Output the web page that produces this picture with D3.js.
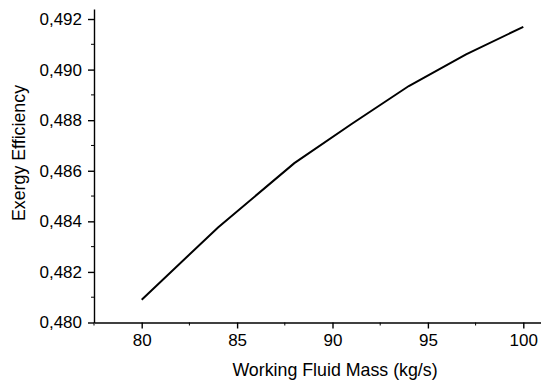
<!DOCTYPE html>
<html>
<head>
<meta charset="utf-8">
<script src="https://cdn.jsdelivr.net/npm/d3@7"></script>
<style>
  body { margin: 0; background: #fff; }
  text { font-family: "Liberation Sans", Arial, sans-serif; fill: #000; }
</style>
</head>
<body>
<script>
// data
var mass = [80, 84, 88, 91, 94, 97, 100];
var efficiency = [0.48090, 0.48376, 0.48630, 0.48785, 0.48935, 0.49060, 0.49169];
var xTicks = [80, 85, 90, 95, 100];
var yTicks = [0.480, 0.482, 0.484, 0.486, 0.488, 0.490, 0.492];

var width = 541;
var height = 383;

var svg = d3.select("body")
    .append("svg")
    .attr("width", width)
    .attr("height", height);

// scales (x axis runs past the right edge, like the original)
var x = d3.scaleLinear()
    .domain([77.5, 102.5])
    .range([94, 571]);
var y = d3.scaleLinear()
    .domain([0.480, 0.4924])
    .range([322.5, 8.9]);

var comma = d3.formatLocale({ decimal: ",", thousands: ".", grouping: [3], currency: ["", ""] });

// minor ticks
var xMinor = d3.range(77.5, 102.6, 2.5).filter(function(d) { return xTicks.indexOf(d) < 0; });
var yMinor = d3.range(0.481, 0.4921, 0.002);

var xAxis = svg.append("g")
    .attr("transform", "translate(0," + y(0.480) + ")")
    .call(d3.axisBottom(x).tickValues(xTicks).tickSize(6).tickPadding(5).tickSizeOuter(0));

xAxis.append("g").selectAll("line")
    .data(xMinor)
    .enter()
    .append("line")
    .attr("x1", function(d) { return x(d); })
    .attr("x2", function(d) { return x(d); })
    .attr("y1", 0)
    .attr("y2", 3)
    .attr("stroke", "#000");

var yAxis = svg.append("g")
    .attr("transform", "translate(" + x(77.5) + ",0)")
    .call(d3.axisLeft(y).tickValues(yTicks).tickFormat(comma.format(".3f")).tickSize(6).tickPadding(6).tickSizeOuter(0));

yAxis.append("g").selectAll("line")
    .data(yMinor)
    .enter()
    .append("line")
    .attr("y1", function(d) { return y(d); })
    .attr("y2", function(d) { return y(d); })
    .attr("x1", 0)
    .attr("x2", -3)
    .attr("stroke", "#000");

svg.selectAll(".domain, .tick line")
    .attr("stroke", "#000")
    .attr("stroke-width", 1.4);
svg.selectAll(".tick text")
    .style("font-size", "17px")
    .style("font-family", "'Liberation Sans', Arial, sans-serif");

// the curve
var line = d3.line()
    .x(function(d, i) { return x(mass[i]); })
    .y(function(d) { return y(d); });

svg.append("path")
    .datum(efficiency)
    .attr("d", line)
    .attr("fill", "none")
    .attr("stroke", "#000")
    .attr("stroke-width", 2);

// axis titles
svg.append("text")
    .attr("x", 335)
    .attr("y", 376)
    .attr("text-anchor", "middle")
    .style("font-size", "17.8px")
    .text("Working Fluid Mass (kg/s)");

svg.append("text")
    .attr("transform", "translate(25,153) rotate(-90)")
    .attr("text-anchor", "middle")
    .style("font-size", "17.8px")
    .text("Exergy Efficiency");
</script>
</body>
</html>
